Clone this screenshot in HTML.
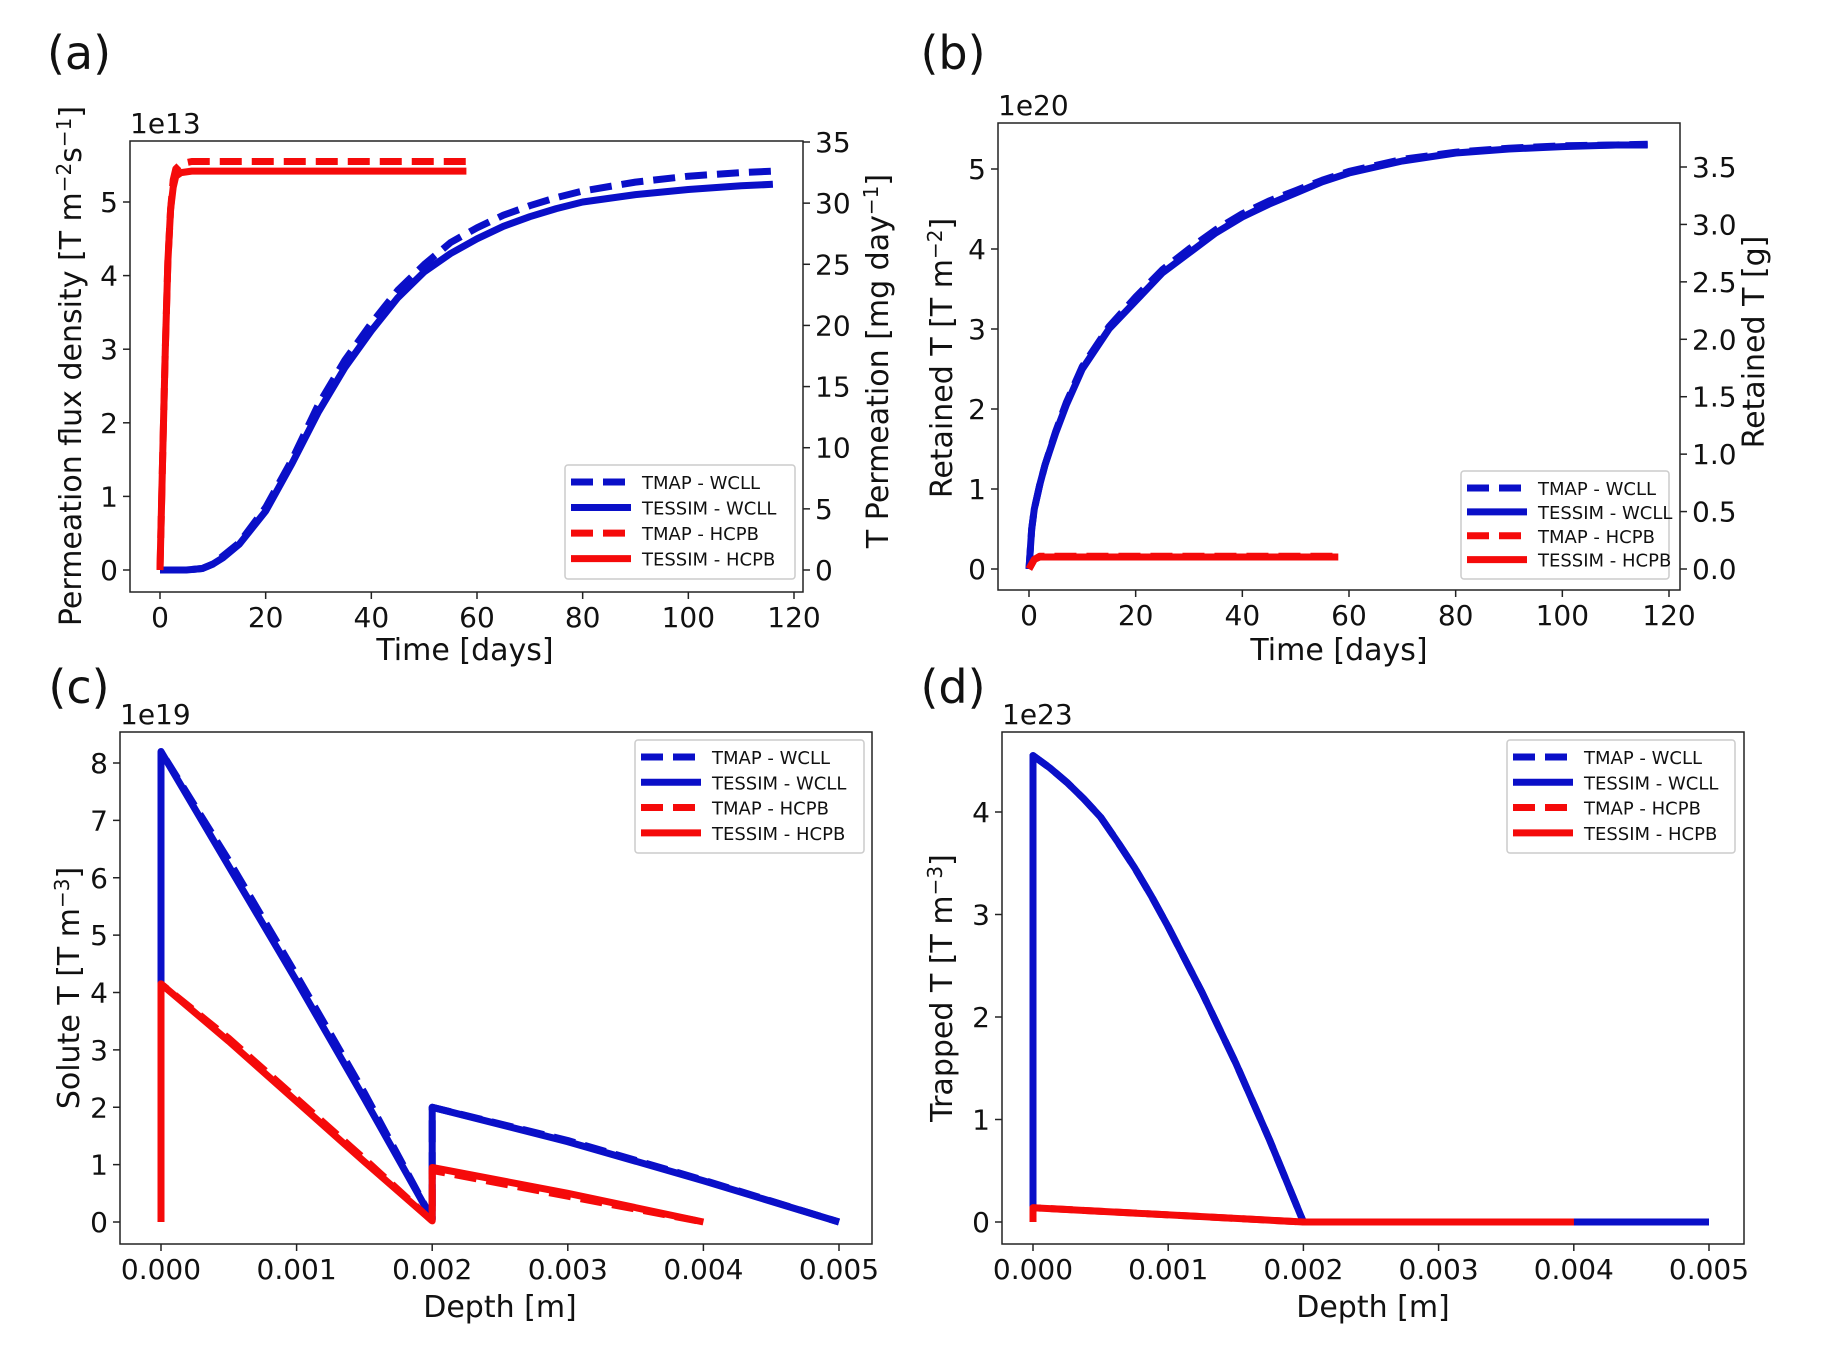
<!DOCTYPE html>
<html><head><meta charset="utf-8"><style>
body{margin:0;background:#fff;}
svg{display:block;font-family:"DejaVu Sans","Liberation Sans",sans-serif;}
</style></head><body>
<svg id="fig" width="1831" height="1350" viewBox="0 0 1831 1350"></svg>
<script>
// ---- Panel (a) data ----
const aTimeTessimW=[0,5,8,10,12,15,20,25,30,35,40,45,50,55,60,65,70,75,80,90,100,110,116];
const aFluxTessimW=[0,0,0.02,0.08,0.17,0.35,0.8,1.45,2.15,2.75,3.25,3.7,4.05,4.3,4.5,4.67,4.8,4.91,5.0,5.1,5.17,5.22,5.24];
const aTimeTmapW=[0,5,8,10,15,20,25,30,35,40,45,50,55,60,65,70,75,80,90,100,110,116];
const aFluxTmapW=[0,0,0.02,0.08,0.37,0.85,1.5,2.25,2.85,3.35,3.8,4.15,4.45,4.65,4.82,4.95,5.06,5.15,5.27,5.35,5.4,5.42];
const aTimeTessimH=[0,0.5,1,1.5,2,2.5,3,4,6,58];
const aFluxTessimH=[0,1.5,3.0,4.2,4.9,5.2,5.35,5.4,5.42,5.42];
const aTimeTmapH=[0,0.5,1,1.5,2,2.5,3,4,6,58];
const aFluxTmapH=[0,1.5,3.0,4.2,4.9,5.3,5.45,5.52,5.55,5.55];
const aXTicks=[0,20,40,60,80,100,120];
const aYTicks=[0,1,2,3,4,5];
const aY2Ticks=[0,5,10,15,20,25,30,35];
// ---- Panel (b) data ----
const bTime=[0,0.5,1,2,3,5,7,10,15,20,25,30,35,40,45,50,55,60,70,80,90,100,110,116];
const bRetTessimW=[0,0.5,0.75,1.05,1.3,1.7,2.05,2.5,3.0,3.35,3.7,3.95,4.2,4.4,4.56,4.7,4.84,4.95,5.1,5.2,5.25,5.28,5.3,5.3];
const bRetTmapW=[0,0.5,0.75,1.05,1.3,1.72,2.08,2.53,3.03,3.4,3.74,4.0,4.24,4.44,4.6,4.73,4.86,4.97,5.12,5.21,5.26,5.29,5.3,5.31];
const bTimeH=[0,1,2,58];
const bRetTessimH=[0,0.12,0.15,0.15];
const bRetTmapH=[0,0.12,0.16,0.16];
const bXTicks=[0,20,40,60,80,100,120];
const bYTicks=[0,1,2,3,4,5];
const bY2Ticks=["0.0","0.5","1.0","1.5","2.0","2.5","3.0","3.5"];
// ---- Panel (c) data ----
const cDepthW=[0,0,0.0005,0.001,0.0015,0.002,0.002,0.003,0.004,0.005];
const cSoluteTessimW=[0,8.2,6.2,4.2,2.15,0.05,2.0,1.4,0.72,0];
const cSoluteTmapW=[0,8.2,6.3,4.3,2.25,0.05,2.0,1.42,0.73,0];
const cDepthH=[0,0,0.0005,0.001,0.0015,0.002,0.002,0.003,0.004];
const cSoluteTessimH=[0,4.15,3.15,2.1,1.05,0.02,0.95,0.5,0];
const cSoluteTmapH=[0,4.15,3.2,2.15,1.1,0.02,0.9,0.45,0];
const cXTicks=["0.000","0.001","0.002","0.003","0.004","0.005"];
const cYTicks=[0,1,2,3,4,5,6,7,8];
// ---- Panel (d) data ----
const dDepthW=[0,0,0.000125,0.00025,0.000375,0.0005,0.000625,0.00075,0.000875,0.001,0.00125,0.0015,0.00175,0.002,0.005];
const dTrapTessimW=[0,4.55,4.43,4.29,4.13,3.95,3.71,3.46,3.18,2.88,2.24,1.55,0.8,0,0];
const dTrapTmapW=[0.45,4.55,4.43,4.29,4.13,3.95,3.71,3.46,3.18,2.88,2.24,1.55,0.8,0,0];
const dDepthH=[0,0,0.002,0.004];
const dTrapTessimH=[0,0.14,0,0];
const dTrapTmapH=[0,0.14,0,0];
const dXTicks=["0.000","0.001","0.002","0.003","0.004","0.005"];
const dYTicks=[0,1,2,3,4];

const NS="http://www.w3.org/2000/svg";
const fig=document.getElementById('fig');
const BLUE="#0a0fc8", RED="#f50a0a";
function mk(tag,attrs,parent){const e=document.createElementNS(NS,tag);for(const k in attrs)e.setAttribute(k,attrs[k]);(parent||fig).appendChild(e);return e;}
function txt(s,x,y,size,anchor,parent,rot){const t=mk('text',{x:x,y:y,'font-size':size,'text-anchor':anchor||'middle',fill:'#111'},parent);if(rot)t.setAttribute('transform','rotate(-90 '+x+' '+y+')');t.textContent=s;return t;}
function lin(d0,d1,r0,r1){return v=>r0+(v-d0)*(r1-r0)/(d1-d0);}
function series(g,xs,ys,X,Y,color,dashed,name){
  const p=mk('path',{d:xs.map((v,i)=>(i?'L':'M')+X(v).toFixed(1)+','+Y(ys[i]).toFixed(1)).join(''),fill:'none',stroke:color,'stroke-width':7,'stroke-linejoin':'round','stroke-dasharray':dashed?'22,10':'none'},g);
  
  
}
function legend(g,x0,y0,w,h){
  const lg=mk('g',{},g);
  
  
  mk('rect',{x:x0,y:y0,width:w,height:h,fill:'#fff',stroke:'#ccc','stroke-width':1.5,rx:3},lg);
  const items=[["TMAP - WCLL",BLUE,true],["TESSIM - WCLL",BLUE,false],["TMAP - HCPB",RED,true],["TESSIM - HCPB",RED,false]];
  items.forEach((it,i)=>{const yy=y0+17+i*(h-22)/3.6;
    const e=mk('g',{},lg);
    
    
    mk('line',{x1:x0+6,x2:x0+66,y1:yy,y2:yy,stroke:it[1],'stroke-width':7,'stroke-dasharray':it[2]?'22,10':'none'},e);
    txt(it[0],x0+77,yy+7,18,'start',e);});
}
function panel(o){
  const g=mk('g',{});
  
  
  mk('rect',{x:o.L,y:o.T,width:o.R-o.L,height:o.B-o.T,fill:'#fff',stroke:'#222','stroke-width':1.5},g);
  o.xt.forEach(v=>{const x=o.X(+v);mk('line',{x1:x,x2:x,y1:o.B,y2:o.B+7,stroke:'#222','stroke-width':1.5},g);txt(String(v),x,o.B+35,28,'middle',g);});
  o.yt.forEach(v=>{const y=o.Y(+v);mk('line',{x1:o.L,x2:o.L-7,y1:y,y2:y,stroke:'#222','stroke-width':1.5},g);txt(String(v),o.L-12,y+10,28,'end',g);});
  if(o.y2t)o.y2t.forEach(v=>{const y=o.Y2(+v);mk('line',{x1:o.R,x2:o.R+7,y1:y,y2:y,stroke:'#222','stroke-width':1.5},g);txt(String(v),o.R+12,y+10,28,'start',g);});
  txt(o.mult,o.L,o.T-8,28,'start',g);
  txt(o.letter,o.lx,o.ly,46,'middle',g);
  const xl=txt(o.xlab,o.xlx,o.xly,30,'middle',g);
  const yl=txt('',o.ylx,o.yly,30,'middle',g,true);yl.innerHTML=o.ylab;
  if(o.y2lab){const y2=txt('',o.y2lx,o.y2ly,30,'middle',g,true);y2.innerHTML=o.y2lab;}
  const cg=mk('g',{},g);
  o.draw(cg);
  legend(g,o.lgx,o.lgy,o.lgw,o.lgh);
}
// (a)
{const X=lin(0,120,160,794),Y=lin(0,5,570,202),Y2=lin(0,35,570,142);
panel({name:'panel-a',L:130,R:803,T:141,B:592,X,Y,Y2,xt:aXTicks,yt:aYTicks,y2t:aY2Ticks,mult:'1e13',letter:'(a)',lx:79,ly:69,
 xlab:'Time [days]',xlx:465,xly:660,ylab:'Permeation flux density [T m<tspan dy="-10" font-size="20">−2</tspan><tspan dy="10">s</tspan><tspan dy="-10" font-size="20">−1</tspan><tspan dy="10">]</tspan>',ylx:81,yly:366,
 y2lab:'T Permeation [mg day<tspan dy="-10" font-size="20">−1</tspan><tspan dy="10">]</tspan>',y2lx:888,y2ly:361,
 lgx:565,lgy:465,lgw:230,lgh:114,
 draw:g=>{series(g,aTimeTmapW,aFluxTmapW,X,Y,BLUE,true,'tmap-wcll-line');series(g,aTimeTessimW,aFluxTessimW,X,Y,BLUE,false,'tessim-wcll-line');
  series(g,aTimeTmapH,aFluxTmapH,X,Y,RED,true,'tmap-hcpb-line');series(g,aTimeTessimH,aFluxTessimH,X,Y,RED,false,'tessim-hcpb-line');}});}
// (b)
{const X=lin(0,120,1029,1669),Y=lin(0,5,569,169),Y2=lin(0,3.5,569,167);
panel({name:'panel-b',L:998,R:1680,T:123,B:590,X,Y,Y2,xt:bXTicks,yt:bYTicks,y2t:bY2Ticks,mult:'1e20',letter:'(b)',lx:953,ly:69,
 xlab:'Time [days]',xlx:1339,xly:660,ylab:'Retained T [T m<tspan dy="-10" font-size="20">−2</tspan><tspan dy="10">]</tspan>',ylx:952,yly:358,
 y2lab:'Retained T [g]',y2lx:1764,y2ly:342,lgx:1461,lgy:471,lgw:208,lgh:108,
 draw:g=>{series(g,bTime,bRetTmapW,X,Y,BLUE,true,'tmap-wcll-line');series(g,bTime,bRetTessimW,X,Y,BLUE,false,'tessim-wcll-line');
  series(g,bTimeH,bRetTmapH,X,Y,RED,true,'tmap-hcpb-line');series(g,bTimeH,bRetTessimH,X,Y,RED,false,'tessim-hcpb-line');}});}
// (c)
{const X=lin(0,0.005,161,839),Y=lin(0,8,1222,763);
panel({name:'panel-c',L:120,R:872,T:732,B:1244,X,Y,xt:cXTicks,yt:cYTicks,mult:'1e19',letter:'(c)',lx:79,ly:703,
 xlab:'Depth [m]',xlx:500,xly:1317,ylab:'Solute T [T m<tspan dy="-10" font-size="20">−3</tspan><tspan dy="10">]</tspan>',ylx:79,yly:988,
 lgx:635,lgy:740,lgw:229,lgh:113,
 draw:g=>{series(g,cDepthW,cSoluteTmapW,X,Y,BLUE,true,'tmap-wcll-line');series(g,cDepthW,cSoluteTessimW,X,Y,BLUE,false,'tessim-wcll-line');
  series(g,cDepthH,cSoluteTmapH,X,Y,RED,true,'tmap-hcpb-line');series(g,cDepthH,cSoluteTessimH,X,Y,RED,false,'tessim-hcpb-line');}});}
// (d)
{const X=lin(0,0.005,1033,1709),Y=lin(0,4,1222,812);
panel({name:'panel-d',L:1002,R:1744,T:732,B:1244,X,Y,xt:dXTicks,yt:dYTicks,mult:'1e23',letter:'(d)',lx:953,ly:703,
 xlab:'Depth [m]',xlx:1373,xly:1317,ylab:'Trapped T [T m<tspan dy="-10" font-size="20">−3</tspan><tspan dy="10">]</tspan>',ylx:952,yly:988,
 lgx:1507,lgy:740,lgw:228,lgh:113,
 draw:g=>{series(g,dDepthW,dTrapTmapW,X,Y,BLUE,true,'tmap-wcll-line');series(g,dDepthW,dTrapTessimW,X,Y,BLUE,false,'tessim-wcll-line');
  series(g,dDepthH,dTrapTmapH,X,Y,RED,true,'tmap-hcpb-line');series(g,dDepthH,dTrapTessimH,X,Y,RED,false,'tessim-hcpb-line');}});}
</script>
</body></html>
